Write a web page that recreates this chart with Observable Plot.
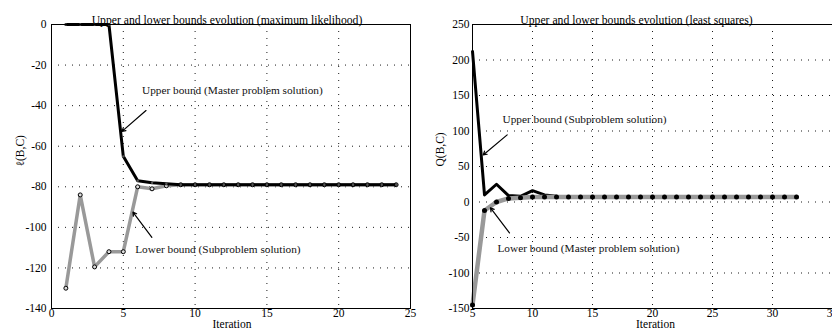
<!DOCTYPE html>
<html><head><meta charset="utf-8">
<script src="https://cdn.jsdelivr.net/npm/d3@7"></script>
<script src="https://cdn.jsdelivr.net/npm/@observablehq/plot@0.6"></script>
<style>
body{margin:0;background:#fff}
#wrap{position:relative;width:832px;height:333px;overflow:hidden;background:#fff}
#wrap svg{position:absolute;top:0}
#wrap svg, #wrap svg text{font-family:"Liberation Serif","DejaVu Serif",serif !important}
</style>
</head><body><div id="wrap"></div>
<script>
// ---------- Left chart: maximum likelihood ----------
const mlTitle = "Upper and lower bounds evolution (maximum likelihood)";
const mlYLabel = "\u2113(B,C)";
const mlIter  = [1,2,3,4,5,6,7,8,9,10,11,12,13,14,15,16,17,18,19,20,21,22,23,24];
const mlUpper = [0,0,0,0,-65,-77,-78,-78.5,-79,-79,-79,-79,-79,-79,-79,-79,-79,-79,-79,-79,-79,-79,-79,-79];
const mlLower = [-130,-84,-119.5,-112,-112,-80,-81,-79.5,-79,-79,-79,-79,-79,-79,-79,-79,-79,-79,-79,-79,-79,-79,-79,-79];
const mlXTicks = [0,5,10,15,20,25];
const mlYTicks = [0,-20,-40,-60,-80,-100,-120,-140];
const mlNotes = [
  {x:6.3, y:-32.5, text:"Upper bound (Master problem solution)"},
  {x:5.83, y:-110.8, text:"Lower bound (Subproblem solution)"}
];
const mlArrows = [
  {x1:6.58, y1:-42.4, x2:4.91, y2:-52.7},
  {x1:6.99, y1:-104.9, x2:5.67, y2:-92.5}
];

// ---------- Right chart: least squares ----------
const lsTitle = "Upper and lower bounds evolution (least squares)";
const lsYLabel = "Q(B,C)";
const lsIter  = [5,6,7,8,9,10,11,12,13,14,15,16,17,18,19,20,21,22,23,24,25,26,27,28,29,30,31,32];
const lsUpper = [212,10,25,9,8,16,10,8,7,7,7,7,7,7,7,7,7,7,7,7,7,7,7,7,7,7,7,7];
const lsLower = [-145,-12,0,5,6,7,7,7,7,7,7,7,7,7,7,7,7,7,7,7,7,7,7,7,7,7,7,7];
const lsXTicks = [5,10,15,20,25,30,35];
const lsYTicks = [250,200,150,100,50,0,-50,-100,-150];
const lsNotes = [
  {x:7.5, y:117, text:"Upper bound (Subproblem solution)"},
  {x:7.08, y:-65, text:"Lower bound (Master problem solution)"}
];
const lsArrows = [
  {x1:7.89, y1:94.5, x2:5.89, y2:66.3},
  {x1:8.08, y1:-43.6, x2:6.5, y2:-8.2}
];

const xLabel = "Iteration";
const fmt = d => d < 0 ? "-" + Math.abs(d) : String(d);
const FF = "Liberation Serif";
const font = {fontFamily:FF, fontSize:"11px", background:"transparent", color:"#000", overflow:"visible"};
const dots = "1,6";

function makeChart(o) {
  const up = o.iter.map((x,i) => ({x, y:o.upper[i]}));
  const lo = o.iter.map((x,i) => ({x, y:o.lower[i]}));
  const lineMarks = o.blackOnTop ? [
      Plot.line(lo, {x:"x", y:"y", stroke:o.grayColor, strokeWidth:o.grayWidth}),
      ...o.lowerMarkers(lo),
      Plot.line(up, {x:"x", y:"y", stroke:"#000", strokeWidth:3}),
      ...o.upperMarkers(up)
    ] : [
      Plot.line(up, {x:"x", y:"y", stroke:"#000", strokeWidth:3}),
      ...o.upperMarkers(up),
      Plot.line(lo, {x:"x", y:"y", stroke:o.grayColor, strokeWidth:o.grayWidth}),
      ...o.lowerMarkers(lo)
    ];
  return Plot.plot({
    width:416, height:333,
    marginLeft:o.ml, marginRight:o.mr, marginTop:24, marginBottom:25,
    style:font,
    x:{domain:o.xDomain, label:null},
    y:{domain:o.yDomain, label:null},
    marks:[
      Plot.gridX(o.xTicks, {stroke:"#000", strokeOpacity:0.9, strokeDasharray:dots, strokeWidth:1}),
      Plot.gridY(o.yTicks, {stroke:"#000", strokeOpacity:0.9, strokeDasharray:dots, strokeWidth:1}),
      Plot.axisX(o.xTicks, {tickSize:0, tickPadding:0, tickFormat:fmt, label:null, fontSize:11.5, fontFamily:FF}),
      Plot.axisY(o.yTicks, {tickSize:0, tickPadding:o.ypad, tickFormat:fmt, label:null, fontSize:11.5, fontFamily:FF}),
      ...lineMarks,
      Plot.arrow(o.arrows, {x1:"x1", y1:"y1", x2:"x2", y2:"y2", stroke:"#000", strokeWidth:1.2, headLength:5}),
      Plot.text(o.notes, {x:"x", y:"y", text:"text", textAnchor:"start", fontSize:11.3, fill:"#111", fontFamily:FF}),
      Plot.frame({stroke:"#000", strokeWidth:1}),
      Plot.text([o.title], {frameAnchor:"top", dy:-9, dx:o.titleDx, fontSize:11.7, fontFamily:FF}),
      Plot.text([xLabel], {frameAnchor:"bottom", dy:19, dx:o.xlDx, fontSize:11.5, fontFamily:FF}),
      Plot.text([o.yLabel], {frameAnchor:"left", dx:o.ylDx, rotate:-90, fontSize:11.5, fontFamily:FF})
    ]
  });
}

const left = makeChart({
  iter:mlIter, upper:mlUpper, lower:mlLower, xTicks:mlXTicks, yTicks:mlYTicks,
  xDomain:[0,25], yDomain:[-140,0], ml:51, mr:6, ypad:5,
  title:mlTitle, yLabel:mlYLabel, notes:mlNotes, arrows:mlArrows,
  titleDx:-4, xlDx:1, ylDx:-31, blackOnTop:true,
  grayColor:"#999", grayWidth:3.5,
  lowerMarkers: d => [Plot.dot(d, {x:"x", y:"y", r:2, stroke:"#000", strokeWidth:1, fill:"#ddd"})],
  upperMarkers: d => [Plot.dot(d, {x:"x", y:"y", r:1.2, fill:"#555", stroke:"none"})]
});
left.style.left = "0px";

const right = makeChart({
  iter:lsIter, upper:lsUpper, lower:lsLower, xTicks:lsXTicks, yTicks:lsYTicks,
  xDomain:[5,35], yDomain:[-150,250], ml:56, mr:0, ypad:3,
  title:lsTitle, yLabel:lsYLabel, notes:lsNotes, arrows:lsArrows,
  titleDx:-16, xlDx:3, ylDx:-32, blackOnTop:false,
  grayColor:"#999", grayWidth:4.5,
  lowerMarkers: d => [Plot.dot(d, {x:"x", y:"y", r:2.5, fill:"#000", stroke:"none"})],
  upperMarkers: d => []
});
right.style.left = "416px";

document.getElementById("wrap").append(left, right);
</script>
</body></html>
